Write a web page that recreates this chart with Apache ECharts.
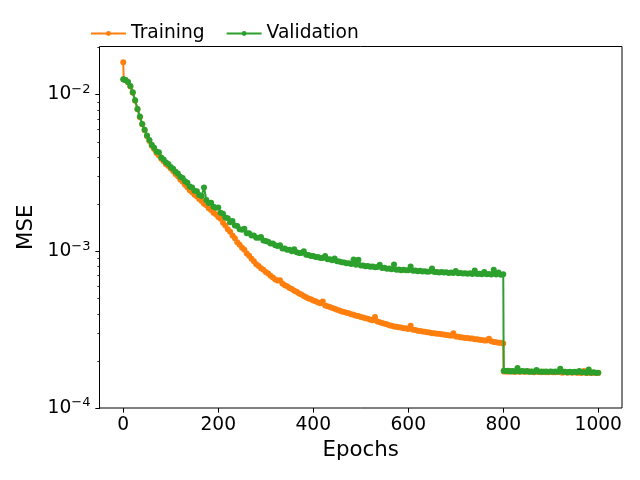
<!DOCTYPE html>
<html>
<head>
<meta charset="utf-8">
<script src="https://cdn.jsdelivr.net/npm/echarts@6/dist/echarts.min.js"></script>
<style>
html,body{margin:0;padding:0;background:#fff;}
#chart{width:640px;height:480px;}
</style>
</head>
<body>
<div id="chart"></div>
<script>
const epochs = [
0,1,5,10,15,20,25,30,35,40,
45,50,55,60,65,70,75,80,85,90,
95,100,105,110,115,120,125,130,135,140,
145,150,155,160,165,170,175,180,185,190,
195,200,205,210,215,220,225,230,235,240,
245,250,255,260,265,270,275,280,285,290,
295,300,305,310,315,320,325,330,335,340,
345,350,355,360,365,370,375,380,385,390,
395,400,405,410,415,420,425,430,435,440,
445,450,455,460,465,470,475,480,485,490,
495,500,505,510,515,520,525,530,535,540,
545,550,555,560,565,570,575,580,585,590,
595,600,605,610,615,620,625,630,635,640,
645,650,655,660,665,670,675,680,685,690,
695,700,705,710,715,720,725,730,735,740,
745,750,755,760,765,770,775,780,785,790,
795,800,801,805,810,815,820,825,830,835,
840,845,850,855,860,865,870,875,880,885,
890,895,900,905,910,915,920,925,930,935,
940,945,950,955,960,965,970,975,980,985,
990,995,1000
];

const training = [
0.01600,0.01245,0.01230,0.01193,0.01124,0.01024,0.00910,0.00804,0.00716,0.00644,
0.00590,0.00541,0.00504,0.00471,0.00448,0.00423,0.00407,0.00389,0.00375,0.00359,
0.00349,0.00337,0.00325,0.00311,0.00300,0.00287,0.00277,0.00265,0.00256,0.00245,
0.00238,0.00229,0.00223,0.00215,0.00209,0.00201,0.00196,0.00188,0.00183,0.00176,
0.00172,0.00165,0.00161,0.00152,0.00146,0.00138,0.00133,0.00126,0.00121,0.00114,
0.00110,0.00105,0.00102,0.000968,0.000935,0.000895,0.000864,0.000826,0.000805,0.000779,
0.000761,0.000737,0.000720,0.000697,0.000679,0.000661,0.000650,0.000652,0.000622,0.000607,
0.000597,0.000582,0.000573,0.000560,0.000551,0.000538,0.000529,0.000518,0.000509,0.000499,
0.000494,0.000485,0.000479,0.000471,0.000465,0.000478,0.000451,0.000445,0.000440,0.000434,
0.000429,0.000423,0.000419,0.000413,0.000410,0.000405,0.000402,0.000396,0.000393,0.000388,
0.000386,0.000381,0.000378,0.000373,0.000371,0.000366,0.000363,0.000380,0.000356,0.000352,
0.000349,0.000344,0.000342,0.000337,0.000335,0.000331,0.000330,0.000327,0.000326,0.000323,
0.000322,0.000319,0.000335,0.000315,0.000314,0.000311,0.000310,0.000307,0.000306,0.000304,
0.000303,0.000300,0.000300,0.000298,0.000297,0.000295,0.000294,0.000292,0.000291,0.000289,
0.000300,0.000286,0.000285,0.000283,0.000282,0.000280,0.000280,0.000277,0.000277,0.000274,
0.000274,0.000272,0.000271,0.000269,0.000269,0.000276,0.000266,0.000264,0.000263,0.000261,
0.000261,0.000258,0.000171,0.000171,0.000170,0.000172,0.000170,0.000170,0.000171,0.000170,
0.000171,0.000170,0.000170,0.000171,0.000170,0.000169,0.000170,0.000170,0.000169,0.000170,
0.000169,0.000169,0.000170,0.000169,0.000169,0.000170,0.000169,0.000168,0.000170,0.000168,
0.000169,0.000168,0.000169,0.000168,0.000168,0.000167,0.000172,0.000167,0.000168,0.000167,
0.000168,0.000167,0.000167
];

const validation = [
0.01250,0.01245,0.01236,0.01198,0.01131,0.01030,0.00916,0.00808,0.00722,0.00648,
0.00596,0.00547,0.00512,0.00478,0.00456,0.00432,0.00428,0.00396,0.00384,0.00368,
0.00360,0.00344,0.00336,0.00321,0.00313,0.00298,0.00293,0.00279,0.00273,0.00259,
0.00255,0.00243,0.00241,0.00228,0.00225,0.00255,0.00212,0.00203,0.00204,0.00192,
0.00189,0.00190,0.00176,0.00173,0.00164,0.00162,0.00153,0.00156,0.00146,0.00145,
0.00138,0.00137,0.00139,0.00130,0.00130,0.00126,0.00126,0.00122,0.00122,0.00123,
0.00117,0.00116,0.00115,0.00112,0.00112,0.00109,0.00108,0.00109,0.00104,0.00104,
0.00102,0.00102,0.00100,0.00103,0.000985,0.000975,0.000972,0.000998,0.000950,0.000946,
0.000933,0.000931,0.000918,0.000917,0.000905,0.000905,0.000932,0.000888,0.000887,0.000874,
0.000898,0.000862,0.000861,0.000850,0.000848,0.000837,0.000837,0.000828,0.000884,0.000820,
0.000882,0.000811,0.000811,0.000803,0.000806,0.000797,0.000799,0.000790,0.000793,0.000820,
0.000781,0.000783,0.000774,0.000776,0.000768,0.000822,0.000762,0.000765,0.000757,0.000761,
0.000755,0.000757,0.000799,0.000751,0.000753,0.000746,0.000749,0.000743,0.000746,0.000740,
0.000743,0.000776,0.000736,0.000738,0.000732,0.000736,0.000730,0.000733,0.000727,0.000731,
0.000725,0.000748,0.000723,0.000726,0.000720,0.000724,0.000719,0.000722,0.000716,0.000754,
0.000715,0.000719,0.000713,0.000737,0.000712,0.000716,0.000710,0.000762,0.000709,0.000732,
0.000708,0.000712,0.000173,0.000172,0.000173,0.000171,0.000172,0.000171,0.000180,0.000171,
0.000172,0.000171,0.000172,0.000170,0.000171,0.000170,0.000175,0.000170,0.000171,0.000170,
0.000171,0.000170,0.000171,0.000170,0.000171,0.000170,0.000178,0.000170,0.000170,0.000169,
0.000170,0.000169,0.000170,0.000169,0.000172,0.000169,0.000169,0.000168,0.000176,0.000168,
0.000169,0.000168,0.000168
];

const xTicks = [0, 200, 400, 600, 800, 1000];
const yMajorTicks = [0.0001, 0.001, 0.01];
const yMinorTicks = [0.0002,0.0003,0.0004,0.0005,0.0006,0.0007,0.0008,0.0009,
                     0.002,0.003,0.004,0.005,0.006,0.007,0.008,0.009,0.02];
const seriesNames = ['Training', 'Validation'];

const FONT = 'DejaVu Sans';
const xMin = -50, xMax = 1050;
const yMin = 0.0001, yMax = 0.0202;

const chart = echarts.init(document.getElementById('chart'), null, {renderer: 'canvas'});

chart.setOption({
  animation: false,
  backgroundColor: '#ffffff',
  textStyle: {fontFamily: FONT},
  grid: {left: 99.5, right: 18, top: 46.5, bottom: 72, show: true, borderColor: '#000', borderWidth: 1, backgroundColor: 'transparent'},
  legend: {
    left: 85, top: 19,
    data: seriesNames,
    itemWidth: 35, itemHeight: 6, itemGap: 21,
    textStyle: {fontFamily: FONT, fontSize: 18.67, color: '#000'},
    selectedMode: false
  },
  xAxis: {
    type: 'value', min: xMin, max: xMax,
    name: 'Epochs', nameLocation: 'middle', nameGap: 29,
    nameTextStyle: {fontFamily: FONT, fontSize: 21.33, color: '#000'},
    axisLine: {show: false},
    axisTick: {show: false},
    axisLabel: {fontFamily: FONT, fontSize: 18.67, color: '#000', margin: 8, customValues: xTicks,
      formatter: function (v) { return String(v); }},
    splitLine: {show: false}
  },
  yAxis: {
    type: 'log', logBase: 10, min: yMin, max: yMax,
    name: 'MSE', nameLocation: 'middle', nameGap: 60,
    nameTextStyle: {fontFamily: FONT, fontSize: 21.33, color: '#000'},
    axisLine: {show: false},
    axisTick: {show: false},
    axisLabel: {
      fontFamily: FONT, fontSize: 18.67, color: '#000', margin: 9,
      customValues: yMajorTicks,
      formatter: function (v) {
        const p = Math.round(Math.log10(v));
        return '10{sup|\u2212' + Math.abs(p) + '}';
      },
      rich: {sup: {fontFamily: FONT, fontSize: 13, color: '#000', padding: [0, 0, 10, 0]}}
    },
    splitLine: {show: false}
  },
  series: [{
    name: seriesNames[0], type: 'line',
    data: epochs.map((e, i) => [e, training[i]]),
    symbol: 'circle', symbolSize: 6, showSymbol: true, showAllSymbol: true,
    itemStyle: {color: '#ff7f0e'},
    lineStyle: {color: '#ff7f0e', width: 2},
    emphasis: {disabled: true}, z: 2
  }, {
    name: seriesNames[1], type: 'line',
    data: epochs.map((e, i) => [e, validation[i]]),
    symbol: 'circle', symbolSize: 6, showSymbol: true, showAllSymbol: true,
    itemStyle: {color: '#2ca02c'},
    lineStyle: {color: '#2ca02c', width: 2},
    emphasis: {disabled: true}, z: 3
  }]
});

// Tick marks placed through the chart's own scales
const tickEls = [];
function px(pt) { return chart.convertToPixel({gridIndex: 0}, pt); }
xTicks.forEach(function (v) {
  const p = px([v, yMin]);
  const x = Math.round(p[0]) + 0.5, y = Math.round(p[1]);
  tickEls.push({type: 'line', shape: {x1: x, y1: y, x2: x, y2: y + 4.67}, style: {stroke: '#000', lineWidth: 1}, silent: true, z: 100});
});
yMajorTicks.forEach(function (v) {
  const p = px([xMin, v]);
  const x = Math.round(p[0]), y = Math.round(p[1]) + 0.5;
  tickEls.push({type: 'line', shape: {x1: x - 4.67, y1: y, x2: x, y2: y}, style: {stroke: '#000', lineWidth: 1}, silent: true, z: 100});
});
yMinorTicks.forEach(function (v) {
  const p = px([xMin, v]);
  const x = Math.round(p[0]), y = Math.round(p[1]) + 0.5;
  tickEls.push({type: 'line', shape: {x1: x - 2.67, y1: y, x2: x, y2: y}, style: {stroke: '#000', lineWidth: 0.8}, silent: true, z: 100});
});
chart.setOption({graphic: {elements: tickEls}});
</script>
</body>
</html>
